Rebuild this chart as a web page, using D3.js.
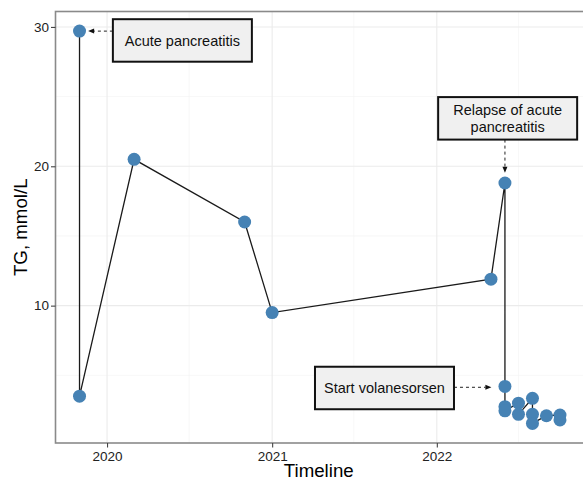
<!DOCTYPE html>
<html>
<head>
<meta charset="utf-8">
<script src="https://cdn.jsdelivr.net/npm/d3@7"></script>
<style>
  html, body { margin: 0; padding: 0; background: #fff; }
  svg { display: block; font-family: "Liberation Sans", Arial, sans-serif; }
</style>
</head>
<body>
<svg id="chart" width="583" height="482"></svg>
<script>
// ---- data ----
const dates = ["2019-11-01","2019-11-01","2020-03-01","2020-11-01","2021-01-01","2022-05-01",
               "2022-06-01","2022-06-01","2022-06-01","2022-06-01","2022-07-01","2022-07-01",
               "2022-08-01","2022-08-01","2022-08-01","2022-09-01","2022-10-01","2022-10-01"];
const tgValues = [29.7, 3.5, 20.5, 16.0, 9.5, 11.9,
                  18.8, 4.2, 2.75, 2.45, 3.0, 2.2,
                  3.35, 2.2, 1.55, 2.1, 2.15, 1.8];

const yTicks = [10, 20, 30];
const yMinorTicks = [5, 15, 25];
const xTickDates = ["2020-01-01", "2021-01-01", "2022-01-01"];
const xMinorDates = ["2020-07-01", "2021-07-01", "2022-07-01"];

const annoLabels = [["Acute pancreatitis"], ["Relapse of acute", "pancreatitis"], ["Start volanesorsen"]];
const annoDates = ["2020-06-16", "2022-06-07", "2021-09-07"];
const annoValues = [29.03, 23.44, 4.09];
const annoSide = ["left", "bottom", "right"];
const arrowEndDates = ["2019-11-20", "2022-06-01", "2022-05-02"];
const arrowEndValues = [29.7, 19.54, 4.14];

const xTitle = "Timeline";
const yTitle = "TG, mmol/L";

// ---- setup ----
const parse = d3.utcParse("%Y-%m-%d");
const data = dates.map((d, i) => ({ date: parse(d), tg: tgValues[i] }));

const svg = d3.select("#chart");
const W = 583, H = 482;
const panel = { left: 55.5, right: 584, top: 11.5, bottom: 443 };

// ggplot-like 5% expansion
const xExt = d3.extent(data, d => +d.date);
const xPad = (xExt[1] - xExt[0]) * 0.05;
const x = d3.scaleUtc()
  .domain([new Date(xExt[0] - xPad), new Date(xExt[1] + xPad)])
  .range([panel.left, panel.right]);

const yExt = d3.extent(data, d => d.tg);
const yPad = (yExt[1] - yExt[0]) * 0.05;
const y = d3.scaleLinear()
  .domain([yExt[0] - yPad, yExt[1] + yPad])
  .range([panel.bottom, panel.top]);

svg.append("rect").attr("width", W).attr("height", H).attr("fill", "#fff");

// ---- grid ----
const grid = svg.append("g");
grid.selectAll(".ymin").data(yMinorTicks).join("line")
  .attr("x1", panel.left).attr("x2", panel.right + 2)
  .attr("y1", d => y(d)).attr("y2", d => y(d))
  .attr("stroke", "#f1f1f1").attr("stroke-width", 0.6);
grid.selectAll(".xmin").data(xMinorDates.map(parse)).join("line")
  .attr("y1", panel.top).attr("y2", panel.bottom)
  .attr("x1", d => x(d)).attr("x2", d => x(d))
  .attr("stroke", "#f1f1f1").attr("stroke-width", 0.6);
grid.selectAll(".ymaj").data(yTicks).join("line")
  .attr("x1", panel.left).attr("x2", panel.right + 2)
  .attr("y1", d => y(d)).attr("y2", d => y(d))
  .attr("stroke", "#ebebeb").attr("stroke-width", 1.1);
grid.selectAll(".xmaj").data(xTickDates.map(parse)).join("line")
  .attr("y1", panel.top).attr("y2", panel.bottom)
  .attr("x1", d => x(d)).attr("x2", d => x(d))
  .attr("stroke", "#ebebeb").attr("stroke-width", 1.1);

// ---- line and points ----
const line = d3.line().x(d => x(d.date)).y(d => y(d.tg));
svg.append("path").datum(data)
  .attr("d", line).attr("fill", "none")
  .attr("stroke", "#1a1a1a").attr("stroke-width", 1.3);

svg.append("g").selectAll("circle").data(data).join("circle")
  .attr("cx", d => x(d.date)).attr("cy", d => y(d.tg))
  .attr("r", 6.5).attr("fill", "#4682b4");

// ---- annotations ----
const boxW = 139, boxH = 42.5;
const ann = svg.append("g");
annoLabels.forEach((lines, i) => {
  const cx = x(parse(annoDates[i])), cy = y(annoValues[i]);
  const bx = cx - boxW / 2, by = cy - boxH / 2;
  let sx, sy;
  const ex = x(parse(arrowEndDates[i])), ey = y(arrowEndValues[i]);
  if (annoSide[i] === "left") { sx = bx; sy = ey; }
  else if (annoSide[i] === "right") { sx = bx + boxW; sy = ey; }
  else { sx = ex; sy = by + boxH; }
  const ang = Math.atan2(ey - sy, ex - sx);
  const hl = 6, hw = 2.5;
  const bxl = ex - hl * Math.cos(ang), byl = ey - hl * Math.sin(ang);
  ann.append("line")
    .attr("x1", sx).attr("y1", sy).attr("x2", bxl).attr("y2", byl)
    .attr("stroke", "#222").attr("stroke-width", 1).attr("stroke-dasharray", "3,3");
  ann.append("path")
    .attr("d", `M${ex},${ey}L${bxl - hw * Math.sin(ang)},${byl + hw * Math.cos(ang)}L${bxl + hw * Math.sin(ang)},${byl - hw * Math.cos(ang)}Z`)
    .attr("fill", "#111");
  ann.append("rect")
    .attr("x", bx).attr("y", by).attr("width", boxW).attr("height", boxH)
    .attr("fill", "#f0f0f0").attr("stroke", "#111").attr("stroke-width", 2);
  const lh = 16.7;
  lines.forEach((t, j) => {
    ann.append("text")
      .attr("x", cx)
      .attr("y", cy + 5.2 + (j - (lines.length - 1) / 2) * lh)
      .attr("text-anchor", "middle")
      .attr("font-size", "14.5px").attr("fill", "#111")
      .text(t);
  });
});

// ---- panel border ----
svg.append("rect")
  .attr("x", panel.left).attr("y", panel.top)
  .attr("width", panel.right + 3 - panel.left).attr("height", panel.bottom - panel.top)
  .attr("fill", "none").attr("stroke", "#8a8a8a").attr("stroke-width", 1.6);

// ---- axes ----
const yAxis = d3.axisLeft(y).tickValues(yTicks).tickSize(4.5).tickPadding(2);
const gy = svg.append("g").attr("transform", `translate(${panel.left},0)`).call(yAxis);
gy.select(".domain").remove();
gy.selectAll("line").attr("stroke", "#444").attr("stroke-width", 1.1);
gy.selectAll("text").attr("font-size", "13.5px").attr("fill", "#222")
  .attr("font-family", "Liberation Sans, Arial, sans-serif");

const xAxis = d3.axisBottom(x).tickValues(xTickDates.map(parse))
  .tickFormat(d3.utcFormat("%Y")).tickSize(4.5).tickPadding(3.5);
const gx = svg.append("g").attr("transform", `translate(0,${panel.bottom})`).call(xAxis);
gx.select(".domain").remove();
gx.selectAll("line").attr("stroke", "#444").attr("stroke-width", 1.1);
gx.selectAll("text").attr("font-size", "13.5px").attr("fill", "#222")
  .attr("font-family", "Liberation Sans, Arial, sans-serif");

// ---- titles ----
svg.append("text")
  .attr("x", (panel.left + 582) / 2).attr("y", 476.5)
  .attr("text-anchor", "middle").attr("font-size", "18.7px").attr("fill", "#000")
  .text(xTitle);
svg.append("text")
  .attr("transform", `translate(26.5,${(panel.top + panel.bottom) / 2}) rotate(-90)`)
  .attr("text-anchor", "middle").attr("font-size", "18.7px").attr("fill", "#000")
  .text(yTitle);
</script>
</body>
</html>
